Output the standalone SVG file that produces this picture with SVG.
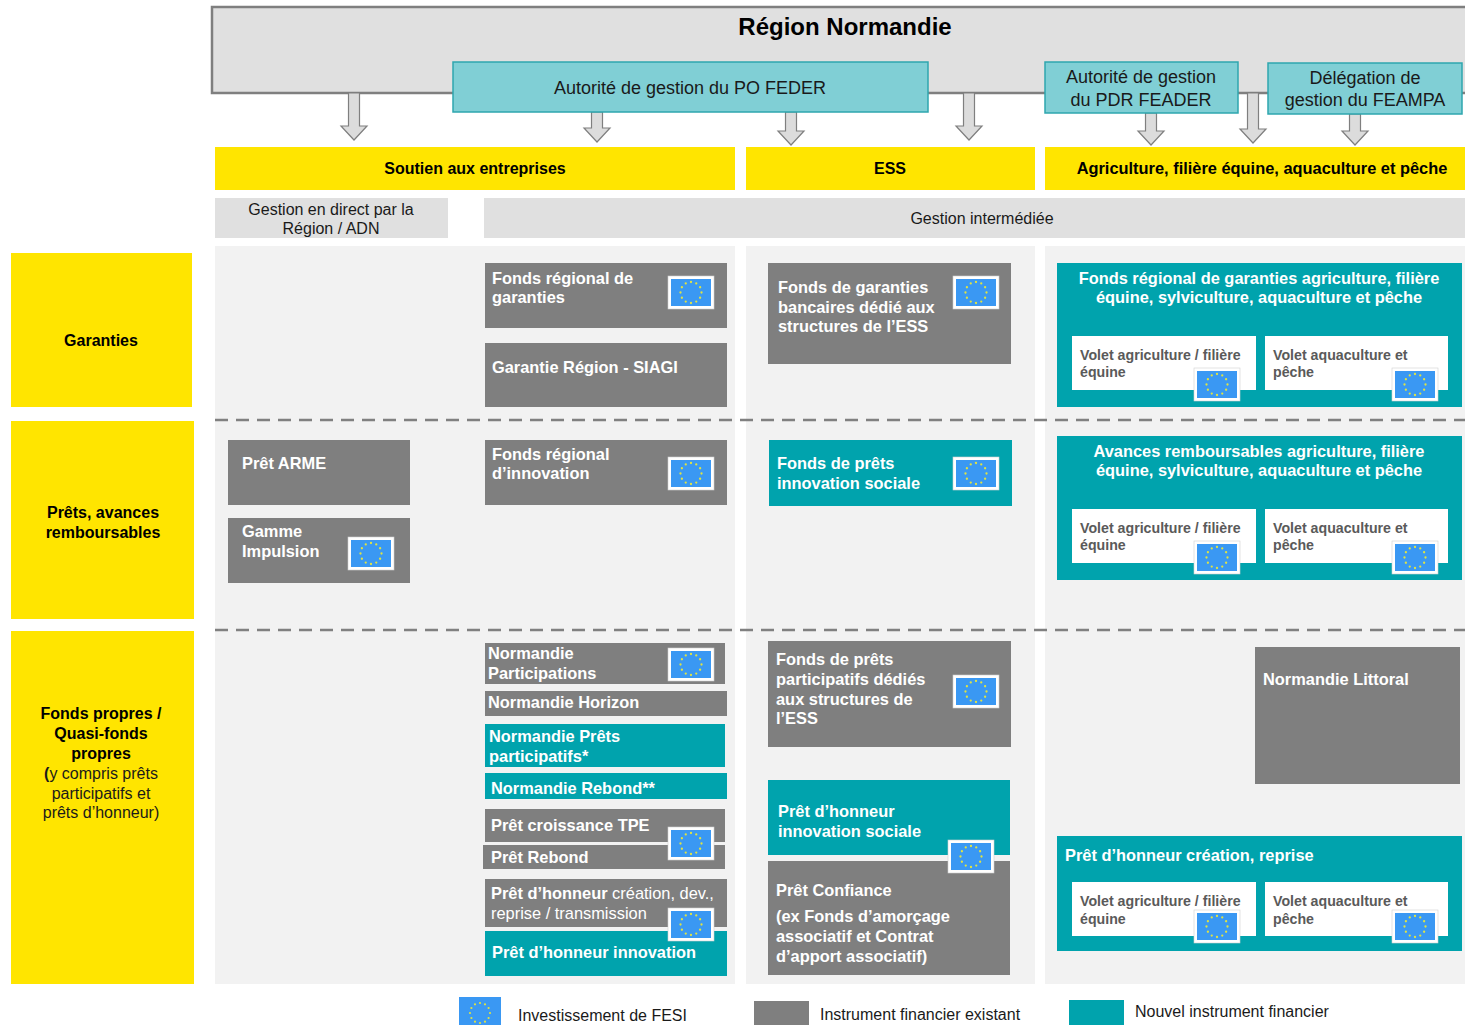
<svg xmlns="http://www.w3.org/2000/svg" xmlns:xlink="http://www.w3.org/1999/xlink" width="1465" height="1025" viewBox="0 0 1465 1025">
<style>
.gr{fill:#7f7f7f}
.tl{fill:#00a3ad}
.yl{fill:#ffe500}
.lt{fill:#e0e0e0}
.bg{fill:#f2f2f2}
.ag{fill:#80cfd5;stroke:#2ea6ae;stroke-width:1.5}
.wt{font-family:"Liberation Sans",Arial,sans-serif;font-size:16.4px;font-weight:bold;fill:#fff}
.bk{font-family:"Liberation Sans",Arial,sans-serif;font-size:16px;font-weight:bold;fill:#000}
.rg{font-family:"Liberation Sans",Arial,sans-serif;font-size:16px;fill:#1a1a1a}
.ag-t{font-family:"Liberation Sans",Arial,sans-serif;font-size:18px;fill:#1a1a1a}
.vl{fill:#fff}
.vt{font-family:"Liberation Sans",Arial,sans-serif;font-size:14.2px;font-weight:bold;fill:#5a5a5a}
.arr{fill:#dcdcdc;stroke:#7f7f7f;stroke-width:1.2}
.dash{stroke:#808080;stroke-width:2.5;stroke-dasharray:13 8;fill:none}
.c{text-anchor:middle}
</style>
<defs>
<g id="eu">
<rect width="46" height="33" fill="#fff" stroke="#cfcfcf" stroke-width="0.6"/>
<rect x="3" y="3" width="40" height="27" fill="#3a98f3"/>
<g fill="#dfe345">
<circle cx="23" cy="6" r="1.15"/><circle cx="28.25" cy="7.4" r="1.15"/><circle cx="32.1" cy="11.25" r="1.15"/><circle cx="33.5" cy="16.5" r="1.15"/><circle cx="32.1" cy="21.75" r="1.15"/><circle cx="28.25" cy="25.6" r="1.15"/><circle cx="23" cy="27" r="1.15"/><circle cx="17.75" cy="25.6" r="1.15"/><circle cx="13.9" cy="21.75" r="1.15"/><circle cx="12.5" cy="16.5" r="1.15"/><circle cx="13.9" cy="11.25" r="1.15"/><circle cx="17.75" cy="7.4" r="1.15"/>
</g>
</g>
</defs>
<rect width="1465" height="1025" fill="#fff"/>

<!-- column backgrounds -->
<rect class="bg" x="215" y="246" width="520" height="738"/>
<rect class="bg" x="746" y="246" width="289" height="738"/>
<rect class="bg" x="1045" y="246" width="420" height="738"/>

<g id="region">
<rect x="212" y="7" width="1275" height="86" fill="#e0e0e0" stroke="#7f7f7f" stroke-width="2.5"/>
<text class="bk c" x="845" y="35" style="font-size:24px">Région Normandie</text>
</g>

<g id="connectors">
<path class="arr" d="M348.5,93 H359.5 V126 H367 L354,140 L341,126 H348.5 Z"/>
<path class="arr" d="M591.5,112 H602.5 V128 H610 L597,142 L584,128 H591.5 Z"/>
<path class="arr" d="M785.5,112 H796.5 V131 H804 L791,145 L778,131 H785.5 Z"/>
<path class="arr" d="M963.5,93 H974.5 V126 H982 L969,140 L956,126 H963.5 Z"/>
<path class="arr" d="M1145.5,113 H1156.5 V131 H1164 L1151,145 L1138,131 H1145.5 Z"/>
<path class="arr" d="M1247.5,93 H1258.5 V129 H1266 L1253,143 L1240,129 H1247.5 Z"/>
<path class="arr" d="M1349.5,114 H1360.5 V131 H1368 L1355,145 L1342,131 H1349.5 Z"/>
<line class="dash" x1="215" y1="420" x2="1465" y2="420"/>
<line class="dash" x1="215" y1="630" x2="1465" y2="630"/>
</g>

<g id="ag-feder">
<rect class="ag" x="453" y="62" width="475" height="50"/>
<text class="ag-t c" x="690" y="94">Autorité de gestion du PO FEDER</text>
</g>
<g id="ag-feader">
<rect class="ag" x="1045" y="62" width="193" height="51"/>
<text class="ag-t c" x="1141" y="83">Autorité de gestion</text>
<text class="ag-t c" x="1141" y="106">du PDR FEADER</text>
</g>
<g id="ag-feampa">
<rect class="ag" x="1268" y="63" width="194" height="51"/>
<text class="ag-t c" x="1365" y="84">Délégation de</text>
<text class="ag-t c" x="1365" y="106">gestion du FEAMPA</text>
</g>

<g id="h-soutien"><rect class="yl" x="215" y="147" width="520" height="43"/><text class="bk c" x="475" y="174">Soutien aux entreprises</text></g>
<g id="h-ess"><rect class="yl" x="746" y="147" width="289" height="43"/><text class="bk c" x="890" y="174">ESS</text></g>
<g id="h-agri"><rect class="yl" x="1045" y="147" width="420" height="43"/><text class="bk c" x="1262" y="174" style="font-size:16.4px">Agriculture, filière équine, aquaculture et pêche</text></g>

<g id="g-direct"><rect class="lt" x="215" y="198" width="233" height="40"/><text class="rg c" x="331" y="215">Gestion en direct par la</text><text class="rg c" x="331" y="234">Région / ADN</text></g>
<g id="g-inter"><rect class="lt" x="484" y="198" width="981" height="40"/><text class="rg c" x="982" y="224">Gestion intermédiée</text></g>

<g id="r-garanties"><rect class="yl" x="11" y="253" width="181" height="154"/><text class="bk c" x="101" y="346">Garanties</text></g>
<g id="r-prets"><rect class="yl" x="11" y="421" width="183" height="198"/><text class="bk c" x="103" y="518">Prêts, avances</text><text class="bk c" x="103" y="538">remboursables</text></g>
<g id="r-fonds"><rect class="yl" x="11" y="631" width="183" height="353"/>
<text class="bk c" x="101" y="719">Fonds propres /</text>
<text class="bk c" x="101" y="739">Quasi-fonds</text>
<text class="bk c" x="101" y="759">propres</text>
<text class="rg c" x="101" y="779"><tspan font-weight="bold">(</tspan>y compris prêts</text>
<text class="rg c" x="101" y="799">participatifs et</text>
<text class="rg c" x="101" y="818">prêts d’honneur)</text>
</g>

<!-- Garanties row -->
<g id="n-frg"><rect class="gr" x="485" y="263" width="242" height="65"/><text class="wt" x="492" y="284">Fonds régional de</text><text class="wt" x="492" y="303">garanties</text><use xlink:href="#eu" x="668" y="276"/></g>
<g id="n-siagi"><rect class="gr" x="485" y="343" width="242" height="64"/><text class="wt" x="492" y="373">Garantie Région - SIAGI</text></g>
<g id="n-fg-ess"><rect class="gr" x="768" y="263" width="243" height="101"/><text class="wt" x="778" y="293">Fonds de garanties</text><text class="wt" x="778" y="313">bancaires dédié aux</text><text class="wt" x="778" y="332">structures de l’ESS</text><use xlink:href="#eu" x="953" y="276"/></g>
<g id="n-frg-agri"><rect class="tl" x="1057" y="263" width="405" height="144"/>
<text class="wt c" x="1259" y="284">Fonds régional de garanties agriculture, filière</text>
<text class="wt c" x="1259" y="303">équine, sylviculture, aquaculture et pêche</text>
<rect class="vl" x="1072" y="336" width="184" height="54"/><text class="vt" x="1080" y="360">Volet agriculture / filière</text><text class="vt" x="1080" y="377">équine</text><use xlink:href="#eu" x="1194" y="368"/>
<rect class="vl" x="1265" y="336" width="183" height="54"/><text class="vt" x="1273" y="360">Volet aquaculture et</text><text class="vt" x="1273" y="377">pêche</text><use xlink:href="#eu" x="1392" y="368"/>
</g>

<!-- Prets row -->
<g id="n-arme"><rect class="gr" x="228" y="440" width="182" height="65"/><text class="wt" x="242" y="469">Prêt ARME</text></g>
<g id="n-impulsion"><rect class="gr" x="228" y="518" width="182" height="65"/><text class="wt" x="242" y="537">Gamme</text><text class="wt" x="242" y="557">Impulsion</text><use xlink:href="#eu" x="348" y="537"/></g>
<g id="n-fri"><rect class="gr" x="485" y="440" width="242" height="65"/><text class="wt" x="492" y="460">Fonds régional</text><text class="wt" x="492" y="479">d’innovation</text><use xlink:href="#eu" x="668" y="457"/></g>
<g id="n-fpis"><rect class="tl" x="769" y="440" width="243" height="66"/><text class="wt" x="777" y="469">Fonds de prêts</text><text class="wt" x="777" y="489">innovation sociale</text><use xlink:href="#eu" x="953" y="457"/></g>
<g id="n-avances"><rect class="tl" x="1057" y="436" width="405" height="144"/>
<text class="wt c" x="1259" y="457">Avances remboursables agriculture, filière</text>
<text class="wt c" x="1259" y="476">équine, sylviculture, aquaculture et pêche</text>
<rect class="vl" x="1072" y="509" width="184" height="54"/><text class="vt" x="1080" y="533">Volet agriculture / filière</text><text class="vt" x="1080" y="550">équine</text><use xlink:href="#eu" x="1194" y="541"/>
<rect class="vl" x="1265" y="509" width="183" height="54"/><text class="vt" x="1273" y="533">Volet aquaculture et</text><text class="vt" x="1273" y="550">pêche</text><use xlink:href="#eu" x="1392" y="541"/>
</g>

<!-- Fonds propres row -->
<g id="n-participations"><rect class="gr" x="485" y="643" width="240" height="41"/><text class="wt" x="488" y="659">Normandie</text><text class="wt" x="488" y="679">Participations</text><use xlink:href="#eu" x="668" y="648"/></g>
<g id="n-horizon"><rect class="gr" x="485" y="691" width="242" height="25"/><text class="wt" x="488" y="708">Normandie Horizon</text></g>
<g id="n-npp"><rect class="tl" x="485" y="724" width="240" height="43"/><text class="wt" x="489" y="742">Normandie Prêts</text><text class="wt" x="489" y="762">participatifs*</text></g>
<g id="n-rebond2"><rect class="tl" x="485" y="773" width="242" height="26"/><text class="wt" x="491" y="794">Normandie Rebond**</text></g>
<g id="n-croissance"><rect class="gr" x="485" y="809" width="240" height="33"/><text class="wt" x="491" y="831">Prêt croissance TPE</text></g>
<g id="n-rebond"><rect class="gr" x="483" y="845" width="242" height="24"/><text class="wt" x="491" y="863">Prêt Rebond</text><use xlink:href="#eu" x="668" y="827"/></g>
<g id="n-ph-creation"><rect class="gr" x="485" y="879" width="242" height="48"/><text class="wt" x="491" y="899">Prêt d’honneur<tspan font-weight="normal"> création, dev.,</tspan></text><text class="wt" x="491" y="919" style="font-weight:normal">reprise / transmission</text></g>
<g id="n-ph-innov"><rect class="tl" x="485" y="931" width="242" height="45"/><text class="wt" x="492" y="958">Prêt d’honneur innovation</text><use xlink:href="#eu" x="668" y="908"/></g>

<g id="n-fpp-ess"><rect class="gr" x="768" y="641" width="243" height="106"/><text class="wt" x="776" y="665">Fonds de prêts</text><text class="wt" x="776" y="685">participatifs dédiés</text><text class="wt" x="776" y="705">aux structures de</text><text class="wt" x="776" y="724">l’ESS</text><use xlink:href="#eu" x="953" y="675"/></g>
<g id="n-confiance"><rect class="gr" x="768" y="861" width="242" height="114"/><text class="wt" x="776" y="896">Prêt Confiance</text><text class="wt" x="776" y="922">(ex Fonds d’amorçage</text><text class="wt" x="776" y="942">associatif et Contrat</text><text class="wt" x="776" y="962">d’apport associatif)</text></g>
<g id="n-ph-is"><rect class="tl" x="768" y="780" width="242" height="75"/><text class="wt" x="778" y="817">Prêt d’honneur</text><text class="wt" x="778" y="837">innovation sociale</text><use xlink:href="#eu" x="948" y="840"/></g>

<g id="n-littoral"><rect class="gr" x="1255" y="647" width="205" height="137"/><text class="wt" x="1263" y="685">Normandie Littoral</text></g>
<g id="n-ph-cr"><rect class="tl" x="1057" y="836" width="405" height="115"/>
<text class="wt" x="1065" y="861">Prêt d’honneur création, reprise</text>
<rect class="vl" x="1072" y="882" width="184" height="54"/><text class="vt" x="1080" y="906">Volet agriculture / filière</text><text class="vt" x="1080" y="924">équine</text><use xlink:href="#eu" x="1194" y="910"/>
<rect class="vl" x="1265" y="882" width="183" height="54"/><text class="vt" x="1273" y="906">Volet aquaculture et</text><text class="vt" x="1273" y="924">pêche</text><use xlink:href="#eu" x="1392" y="910"/>
</g>

<g id="legend">
<rect x="459" y="997" width="42" height="30" fill="#3a98f3"/>
<g fill="#dfe345"><circle cx="480" cy="1003" r="1.1"/><circle cx="485" cy="1004.3" r="1.1"/><circle cx="488.6" cy="1008" r="1.1"/><circle cx="490" cy="1013" r="1.1"/><circle cx="488.6" cy="1018" r="1.1"/><circle cx="485" cy="1021.7" r="1.1"/><circle cx="480" cy="1023" r="1.1"/><circle cx="475" cy="1021.7" r="1.1"/><circle cx="471.4" cy="1018" r="1.1"/><circle cx="470" cy="1013" r="1.1"/><circle cx="471.4" cy="1008" r="1.1"/><circle cx="475" cy="1004.3" r="1.1"/></g>
<text class="rg" x="518" y="1021">Investissement de FESI</text>
<rect class="gr" x="754" y="1001" width="55" height="26"/>
<text class="rg" x="820" y="1020">Instrument financier existant</text>
<rect class="tl" x="1069" y="1000" width="55" height="27"/>
<text class="rg" x="1135" y="1017">Nouvel instrument financier</text>
</g>
</svg>
